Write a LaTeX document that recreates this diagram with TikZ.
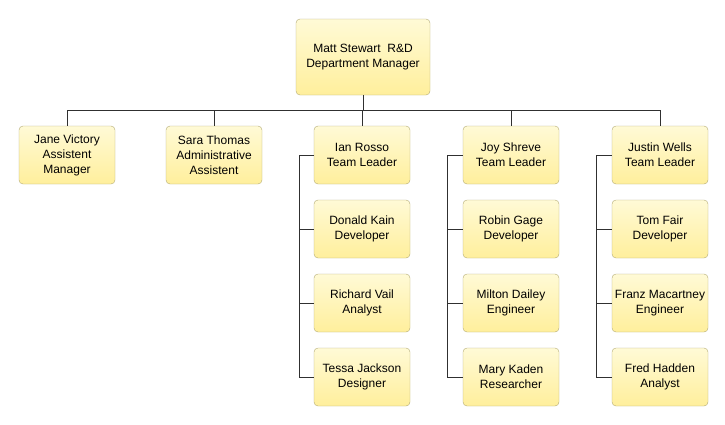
\documentclass[tikz,border=0pt]{standalone}
\usepackage{fontspec}
\setmainfont{Liberation Sans}
\definecolor{boxline}{HTML}{B3AA74}
\definecolor{boxtop}{HTML}{FFFAD6}
\definecolor{boxbot}{HTML}{FFEF9C}
\definecolor{wire}{HTML}{303030}
\begin{document}
\begin{tikzpicture}[x=1pt,y=-1pt,
  person/.style={draw=boxline, rounded corners=4pt, top color=boxtop, bottom color=boxbot,
    minimum width=96pt, minimum height=58pt, align=center, inner sep=1pt,
    font=\fontsize{12}{15}\selectfont},
  wire/.style={draw=wire, line width=0.9pt}]
\useasboundingbox (0,0) rectangle (725,424);

\node[person, minimum width=134pt, minimum height=76pt] (mgr) at (363,57) {Matt Stewart\ \ R\&D\\Department Manager};

\node[person] (jane) at (67,155) {Jane Victory\\Assistent\\Manager};
\node[person] (sara) at (214,155) {Sara Thomas\\Administrative\\Assistent};
\node[person] (ian) at (362,155) {Ian Rosso\\Team Leader};
\node[person] (joy) at (511,155) {Joy Shreve\\Team Leader};
\node[person] (justin) at (660,155) {Justin Wells\\Team Leader};

\node[person] (donald) at (362,229) {Donald Kain\\Developer};
\node[person] (richard) at (362,303) {Richard Vail\\Analyst};
\node[person] (tessa) at (362,377) {Tessa Jackson\\Designer};

\node[person] (robin) at (511,229) {Robin Gage\\Developer};
\node[person] (milton) at (511,303) {Milton Dailey\\Engineer};
\node[person] (mary) at (511,377) {Mary Kaden\\Researcher};

\node[person] (tom) at (660,229) {Tom Fair\\Developer};
\node[person] (franz) at (660,303) {Franz Macartney\\Engineer};
\node[person] (fred) at (660,377) {Fred Hadden\\Analyst};

% manager to first row
\foreach \c in {jane,sara,ian,joy,justin}
  \draw[wire] (mgr.south) -- ++(0,15) -| (\c.north);

% team leaders to their staff
\foreach \c in {donald,richard,tessa}
  \draw[wire] (ian.west) -- ++(-14,0) |- (\c.west);
\foreach \c in {robin,milton,mary}
  \draw[wire] (joy.west) -- ++(-15,0) |- (\c.west);
\foreach \c in {tom,franz,fred}
  \draw[wire] (justin.west) -- ++(-15,0) |- (\c.west);
\end{tikzpicture}
\end{document}
